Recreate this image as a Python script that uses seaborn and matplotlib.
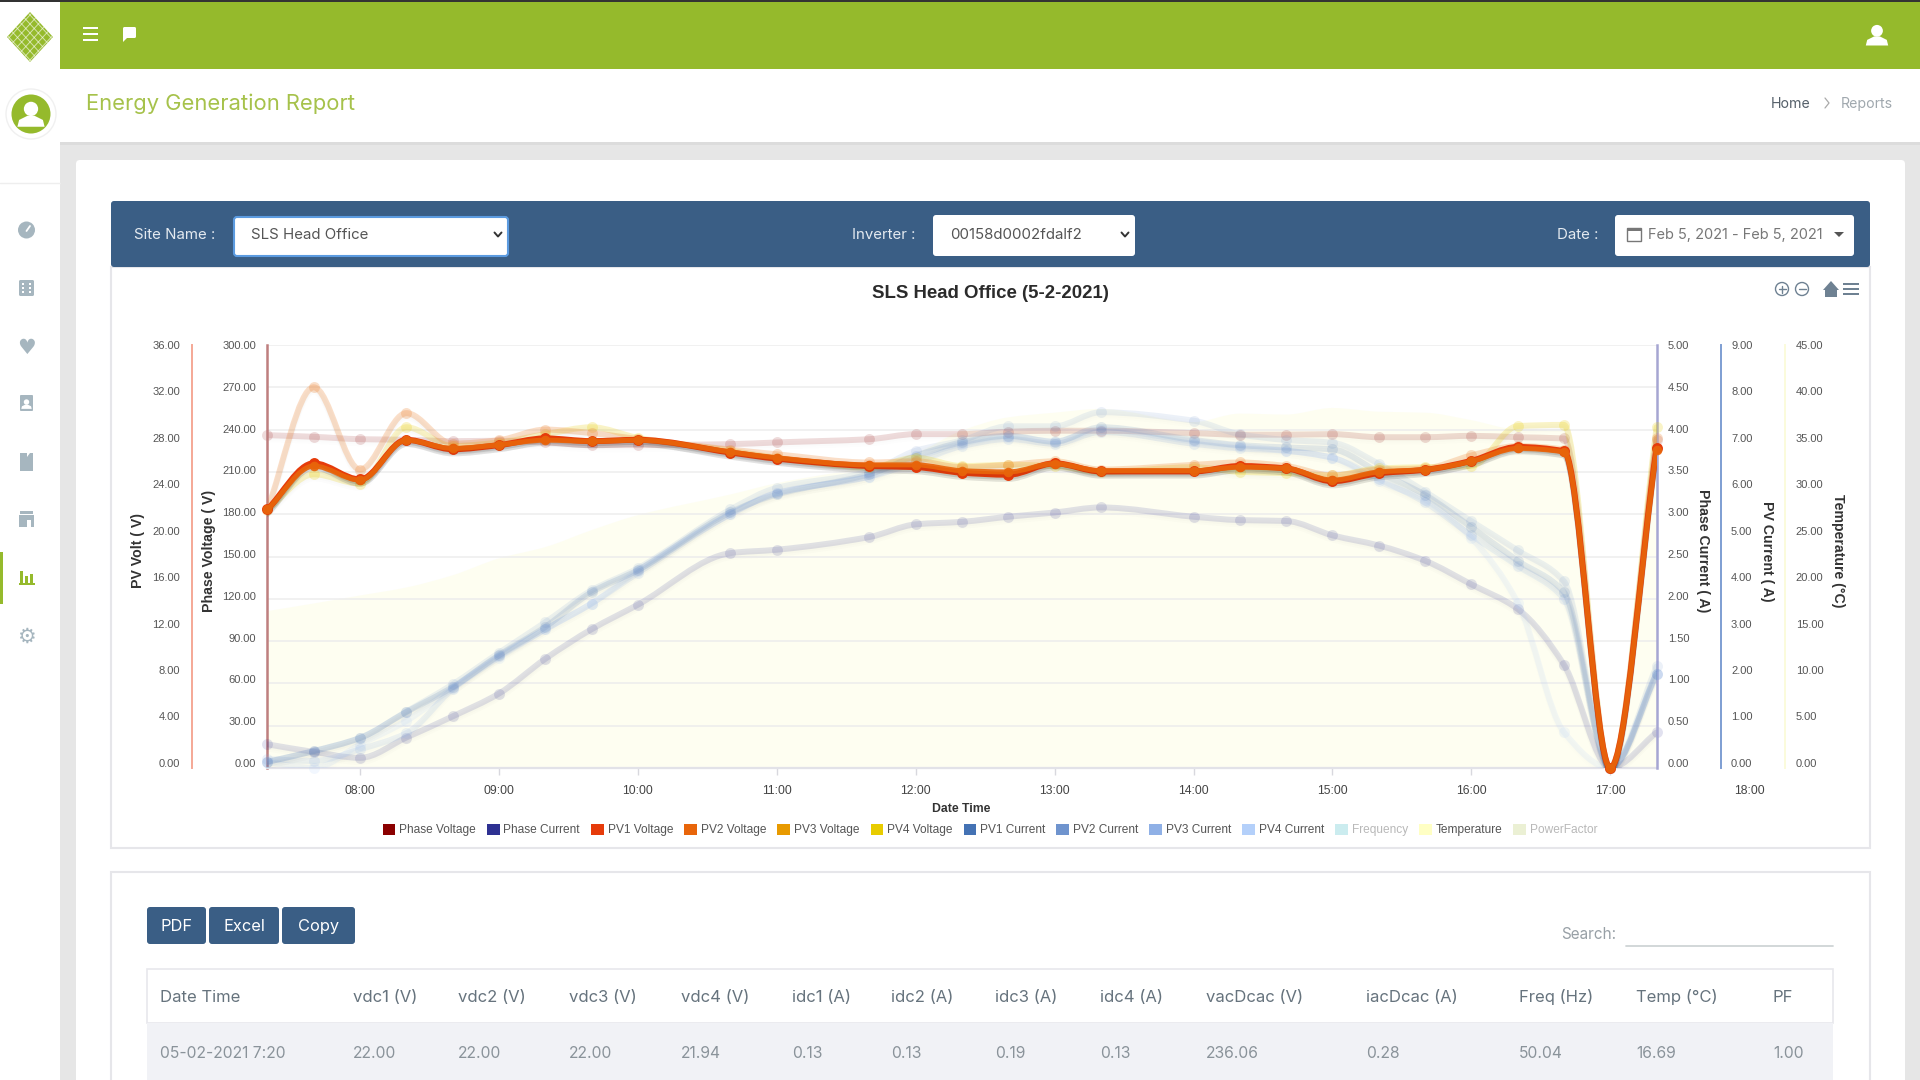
import numpy as np
import pandas as pd
import matplotlib
matplotlib.use("Agg")
import matplotlib.pyplot as plt
import matplotlib.patheffects as pe
import seaborn as sns
from matplotlib.patches import Circle, FancyBboxPatch, Patch, PathPatch, Polygon, Rectangle
from matplotlib.path import Path
from matplotlib.transforms import blended_transform_factory

CHART_FONT = "Liberation Sans"
PAGE_FONT = "Inter"
GREEN = "#95BA2C"
NAVY = "#3A5E85"
ICON = "#A6B6BF"

times = ["07:20", "07:40", "08:00", "08:20", "08:40", "09:00", "09:20", "09:40", "10:00", "10:40",
         "11:00", "11:40", "12:00", "12:20", "12:40", "13:00", "13:20", "14:00", "14:20", "14:40",
         "15:00", "15:20", "15:40", "16:00", "16:20", "16:40", "17:00", "17:20"]

df = pd.DataFrame({
    "time": times,
    "phase_v": [236.06, 234.9, 233.2, 232.8, 231.8, 232.1, 230.9, 229.0, 229.0, 229.7, 230.9, 233.2, 236.8, 236.8,
                238.5, 239.2, 239.2, 237.5, 236.4, 236.4, 236.8, 234.6, 234.6, 235.6, 234.6, 233.7, 0, 232.9],
    "phase_i": [0.28, 0.19, 0.12, 0.36, 0.61, 0.88, 1.29, 1.64, 1.93, 2.54, 2.58, 2.73, 2.88, 2.91,
                2.97, 3.02, 3.08, 2.97, 2.93, 2.92, 2.75, 2.63, 2.45, 2.17, 1.88, 1.22, 0, 0.42],
    "pv1_v": [22.0, 25.93, 24.56, 27.93, 27.13, 27.48, 28.05, 27.82, 27.93, 26.85, 26.33, 25.7, 25.61, 25.13,
              24.96, 25.93, 25.24, 25.24, 25.7, 25.5, 24.41, 25.09, 25.38, 26.14, 27.32, 26.96, 0, 27.27],
    "pv2_v": [22.0, 25.7, 24.5, 27.9, 27.2, 27.5, 27.9, 27.8, 27.9, 26.9, 26.4, 25.8, 25.8, 25.3,
              25.2, 25.9, 25.3, 25.3, 25.6, 25.5, 24.5, 25.2, 25.4, 26.1, 27.2, 26.9, 0, 27.1],
    "pv3_v": [22.0, 32.4, 25.4, 30.2, 27.6, 27.9, 28.8, 28.5, 28.0, 27.1, 26.7, 26.0, 26.1, 25.6,
              25.8, 26.1, 25.4, 25.8, 26.0, 25.7, 24.9, 25.4, 25.5, 26.6, 27.4, 27.1, 0, 28.1],
    "pv4_v": [21.94, 25.0, 24.2, 29.0, 27.4, 27.7, 28.4, 29.0, 28.1, 27.0, 26.4, 25.6, 26.4, 25.7,
              25.8, 25.7, 25.2, 25.6, 25.2, 25.1, 24.9, 25.5, 25.6, 25.7, 29.1, 29.2, 0, 29.0],
    "pv1_i": [0.13, 0.36, 0.64, 1.19, 1.72, 2.4, 3.0, 3.74, 4.21, 5.44, 5.82, 6.25, 6.64, 6.93,
              7.07, 6.94, 7.25, 6.98, 6.87, 6.82, 6.78, 6.29, 5.81, 5.12, 4.41, 3.74, 0, 2.01],
    "pv2_i": [0.13, 0.36, 0.64, 1.2, 1.78, 2.45, 3.1, 3.78, 4.25, 5.5, 5.96, 6.3, 6.75, 6.97,
              7.27, 7.27, 7.57, 7.39, 7.1, 6.98, 6.92, 6.47, 5.88, 5.25, 4.63, 3.97, 0, 2.16],
    "pv3_i": [0.19, 0.15, 0.4, 0.74, 1.68, 2.38, 2.95, 3.5, 4.15, 5.4, 5.85, 6.2, 6.5, 6.85,
              7.0, 6.9, 7.15, 6.9, 6.8, 6.75, 6.6, 6.15, 5.65, 4.95, 4.3, 3.6, 0, 2.0],
    "pv4_i": [0.13, 0.0, 0.5, 1.0, 1.7, 2.35, 2.95, 3.5, 4.2, 5.4, 5.85, 6.2, 6.6, 6.9,
              7.05, 6.95, 7.2, 6.95, 6.85, 6.75, 6.6, 6.1, 5.7, 4.89, 3.52, 0.76, 0, 2.0],
    "temp": [16.69, 17.5, 18.35, 19.2, 20.5, 22.3, 23.5, 25.3, 26.9, 29.1, 30.3, 32.1, 33.5, 35.9,
             37.3, 37.8, 38.2, 36.8, 37.7, 37.6, 38.3, 37.9, 37.8, 37.0, 36.0, 35.9, 0, 32.9],
})
clock = pd.to_datetime(df["time"], format="%H:%M")
df["hour"] = clock.dt.hour + clock.dt.minute / 60

legend_items = [
    ("Phase Voltage", "#8B0000", True), ("Phase Current", "#2E3192", True),
    ("PV1 Voltage", "#E63B0A", True), ("PV2 Voltage", "#E8650A", True),
    ("PV3 Voltage", "#E89A00", True), ("PV4 Voltage", "#E8CC00", True),
    ("PV1 Current", "#4472B4", True), ("PV2 Current", "#6F94CE", True),
    ("PV3 Current", "#8FB0E6", True), ("PV4 Current", "#B4D0FA", True),
    ("Frequency", "#CBECEF", False), ("Temperature", "#FFFFC4", True),
    ("PowerFactor", "#EBF0D4", False),
]


def smooth_path(x, y, close_to=None):
    # monotone cubic bezier through the read values, same look as the web chart
    x = np.asarray(x, dtype=float)
    y = np.asarray(y, dtype=float)
    dx = np.diff(x)
    sec = np.diff(y) / dx
    m = np.zeros(len(x))
    for i in range(1, len(x) - 1):
        if sec[i - 1] * sec[i] > 0:
            m[i] = 2 * sec[i - 1] * sec[i] / (sec[i - 1] + sec[i])
    m[0] = sec[0]
    m[-1] = sec[-1]
    verts = [(x[0], y[0])]
    codes = [Path.MOVETO]
    for i in range(len(dx)):
        verts += [(x[i] + dx[i] / 3, y[i] + m[i] * dx[i] / 3),
                  (x[i + 1] - dx[i] / 3, y[i + 1] - m[i + 1] * dx[i] / 3),
                  (x[i + 1], y[i + 1])]
        codes += [Path.CURVE4] * 3
    if close_to is not None:
        verts += [(x[-1], close_to), (x[0], close_to), (x[0], close_to)]
        codes += [Path.LINETO, Path.LINETO, Path.CLOSEPOLY]
    return Path(verts, codes)


def draw_series(ax, col, color, alpha, lw=4.3, size=62, shadow=0.05):
    effects = [
        pe.SimpleLineShadow(offset=(0, -3), shadow_color="k", alpha=shadow),
        pe.SimpleLineShadow(offset=(0, -1.5), shadow_color="k", alpha=shadow),
        pe.Normal(),
    ]
    ax.add_patch(PathPatch(smooth_path(df["hour"], df[col]), fill=False, ec=color, lw=lw,
                           alpha=alpha, capstyle="round", joinstyle="round", path_effects=effects))
    sns.scatterplot(data=df, x="hour", y=col, ax=ax, color=color, alpha=alpha, s=size,
                    linewidth=0, legend=False, clip_on=False)
    ax.set_xlabel("")
    ax.set_ylabel("")


def side_axis(ax, side, vmax, step, spine_px, pad, color, label, label_x, lw=1.4):
    ax.set_ylim(0, vmax)
    ax.set_xlim(7 + 1 / 3, 17 + 1 / 3)
    ticks = np.arange(0, vmax + step / 2, step)
    # the web chart prints its labels a little above the true height near the bottom
    ax.set_yticks(ticks + (vmax - ticks) * 0.012, [f"{t:.2f}" for t in ticks])
    for name, spine in ax.spines.items():
        spine.set_visible(name == side)
    ax.spines[side].set_position(("outward", spine_px * 0.72))
    ax.spines[side].set_color(color)
    ax.spines[side].set_linewidth(lw)
    ax.yaxis.set_ticks_position(side)
    ax.tick_params(axis="y", length=0, pad=pad, labelsize=8, labelcolor="#555555")
    rot = 90 if side == "left" else -90
    page.text(label_x, 551, label, rotation=rot, ha="center", va="center", fontsize=10.2,
              fontweight="bold", family=CHART_FONT, color="#333333", zorder=20)


def box(x0, y0, x1, y1, color, z=1, round_px=0, ec="none", lw=0):
    if round_px:
        patch = FancyBboxPatch((x0, y0), x1 - x0, y1 - y0, boxstyle=f"round,pad=0,rounding_size={round_px}",
                               fc=color, ec=ec, lw=lw, zorder=z)
    else:
        patch = Rectangle((x0, y0), x1 - x0, y1 - y0, fc=color, ec=ec, lw=lw, zorder=z)
    page.add_patch(patch)
    return patch


def label(x, y, s, size=10, color="#666666", ha="left", font=PAGE_FONT, **kw):
    page.text(x, y + 1.2, s, fontsize=size, color=color, ha=ha, va="center", family=font, zorder=10, **kw)


def draw_person(cx, cy, r, color):
    page.add_patch(Circle((cx, cy - r * 0.3), r * 0.42, fc=color, ec="none", zorder=6))
    page.add_patch(Polygon([(cx - r * 0.8, cy + r * 0.75), (cx - r * 0.7, cy + r * 0.35),
                            (cx - r * 0.2, cy + r * 0.1), (cx + r * 0.2, cy + r * 0.1),
                            (cx + r * 0.7, cy + r * 0.35), (cx + r * 0.8, cy + r * 0.75)],
                           fc=color, ec="none", zorder=6))


def draw_page():
    # page furniture, laid out in reference pixels
    box(0, 0, 1920, 1080, "white", z=0)
    box(60, 142, 1920, 1080, "#E6E6E6", z=0.5)
    box(0, 0, 1920, 2, "#333333", z=2)
    box(60, 2, 1920, 69, GREEN, z=1)
    box(60, 142, 1920, 145, "#DCDCDC", z=1)
    box(76, 160, 1905, 1090, "white", z=1, round_px=4)

    # logo
    diamond = Polygon([(30, 12), (53, 37), (30, 62), (7, 37)], fc=GREEN, ec="none", zorder=2)
    page.add_patch(diamond)
    for k in range(-40, 41, 9):
        for sign in (1, -1):
            ln, = page.plot([0, 60], [37 + k - sign * 30 * 1.08, 37 + k + sign * 30 * 1.08],
                            color="white", lw=0.7, zorder=3, alpha=0.6)
            ln.set_clip_path(diamond)

    # avatar
    page.add_patch(Circle((31, 114), 25, fc="white", ec="#F0F0F0", lw=1, zorder=2))
    page.add_patch(Circle((31, 114), 19.5, fc=GREEN, ec="none", zorder=3))
    draw_person(31, 114, 17, "white")
    page.plot([0, 60], [183, 183], color="#EEEEEE", lw=1, zorder=2)

    # header icons
    for y in (28, 34, 40):
        box(83, y - 1, 98, y + 1, "white", z=3)
    box(123, 27, 136, 38, "white", z=3, round_px=1.5)
    page.add_patch(Polygon([(123, 37), (123, 42), (128, 37)], fc="white", ec="none", zorder=3))
    draw_person(1877, 35, 14, "white")

    # title row
    label(86, 103, "Energy Generation Report", size=15.8, color="#A6C24B")
    label(1771, 103, "Home", size=10.2, color="#55606A")
    page.plot([1825, 1829, 1825], [98, 103, 108], color="#AAAAAA", lw=0.9, zorder=3)
    label(1841, 103, "Reports", size=10.2, color="#A0A8AE")

    # sidebar icons
    page.add_patch(Circle((26.5, 230), 8.5, fc=ICON, ec="none", zorder=3))
    page.plot([26.5, 30], [231, 226], color="white", lw=1.3, zorder=4)
    box(19, 280, 34, 296, ICON, z=3, round_px=1.5)
    for y in (284, 288, 292):
        box(22, y - 1, 24, y + 1, "white", z=4)
        box(29, y - 1, 31, y + 1, "white", z=4)
    page.text(26.5, 348, "\u2665", fontsize=15, color=ICON, ha="center", va="center", family="DejaVu Sans", zorder=3)
    box(20, 395, 33, 411, ICON, z=3, round_px=1)
    draw_person(26.5, 404, 6.5, "white")
    page.add_patch(Polygon([(20, 453), (27, 453), (27, 457), (30, 453), (33, 453), (33, 471), (20, 471)],
                           fc=ICON, ec="none", zorder=3))
    box(20, 511, 33, 514, ICON, z=3)
    box(19, 515, 34, 527, ICON, z=3)
    box(27, 520, 31, 527, "white", z=4)
    box(0, 552, 3, 604, GREEN, z=3)
    for x, h in ((21, 14), (26, 9), (31, 11)):
        box(x - 1.5, 585 - h, x + 1.5, 585, GREEN, z=3)
    box(19, 583, 35, 585, GREEN, z=3)
    page.text(26.5, 636.5, "\u2699", fontsize=15, color=ICON, ha="center", va="center", family="DejaVu Sans", zorder=3)

    # filter bar
    box(111, 201, 1870, 267, NAVY, z=2, round_px=3)
    label(134, 234, "Site Name :", size=10.8, color="#E4EAF0")
    box(234, 217, 508, 256, "white", z=3, round_px=3, ec="#5C9BE0", lw=1.5)
    label(251, 234, "SLS Head Office", size=10.8, color="#555555")
    label(852, 234, "Inverter :", size=10.8, color="#E4EAF0")
    box(933, 215, 1135, 256, "white", z=3, round_px=3)
    label(950, 234, "00158d0002fdalf2", size=10.8, color="#555555")
    label(1557, 234, "Date :", size=10.8, color="#E4EAF0")
    box(1615, 215, 1854, 256, "white", z=3, round_px=3)
    label(1648, 234, "Feb 5, 2021 - Feb 5, 2021", size=10.5, color="#777777")
    box(1627, 228, 1641, 241, "white", z=4, ec="#777777", lw=1)
    box(1627, 228, 1641, 231, "#777777", z=4)
    page.add_patch(Polygon([(1834, 232), (1844, 232), (1839, 237)], fc="#555555", ec="none", zorder=4))
    for cx in (498, 1125):
        page.plot([cx - 3.5, cx, cx + 3.5], [232.5, 236.5, 232.5], color="#333333", lw=1.4, zorder=4)

    # chart card
    box(111, 267, 1870, 848, "white", z=1.5, ec="#E6E6EA", lw=1.5)
    page.text(990, 293.5, "SLS Head Office (5-2-2021)", fontsize=13.4, fontweight="bold", ha="center",
              va="center", family=CHART_FONT, color="#2B2B2B", zorder=10)
    tool = "#6E8192"
    for cx, sym in ((1782, "+"), (1802, "-")):
        page.add_patch(Circle((cx, 289), 6.5, fc="none", ec=tool, lw=1, zorder=5))
        page.plot([cx - 3.5, cx + 3.5], [289, 289], color=tool, lw=1, zorder=5)
        if sym == "+":
            page.plot([cx, cx], [285.5, 292.5], color=tool, lw=1, zorder=5)
    page.add_patch(Polygon([(1823, 290), (1831, 281), (1839, 290), (1837, 290), (1837, 297), (1825, 297), (1825, 290)],
                           fc=tool, ec="none", zorder=5))
    for y in (284, 289, 294):
        box(1843, y - 1, 1859, y + 1, tool, z=5)

    # table card
    box(111, 872, 1870, 1090, "white", z=1.5, ec="#E6E6EA", lw=1.5)
    for x0, x1, text in ((147, 206, "PDF"), (209, 279, "Excel"), (282, 355, "Copy")):
        box(x0, 907, x1, 944, NAVY, z=3, round_px=3)
        label((x0 + x1) / 2, 925.5, text, size=11.8, color="white", ha="center")
    label(1616, 933, "Search:", size=11, color="#98A0A6", ha="right")
    page.plot([1626, 1833], [946, 946], color="#CFD4D6", lw=1.3, zorder=3)
    box(147, 969, 1833, 1023, "white", z=2, ec="#E8E8EC", lw=1.2)
    box(147, 1023, 1833, 1080, "#F1F2F6", z=2)
    columns = [(160, "Date Time", "05-02-2021 7:20"), (353, "vdc1 (V)", "22.00"), (458, "vdc2 (V)", "22.00"),
               (569, "vdc3 (V)", "22.00"), (681, "vdc4 (V)", "21.94"), (792, "idc1 (A)", "0.13"),
               (891, "idc2 (A)", "0.13"), (995, "idc3 (A)", "0.19"), (1100, "idc4 (A)", "0.13"),
               (1206, "vacDcac (V)", "236.06"), (1366, "iacDcac (A)", "0.28"), (1519, "Freq (Hz)", "50.04"),
               (1636, "Temp (\u00b0C)", "16.69"), (1773, "PF", "1.00")]
    for x, head, value in columns:
        label(x, 996, head, size=12, color="#66737D")
        label(x, 1052, value, size=11.3, color="#8A939A")


sns.set_theme(style="white")
plt.rcParams["font.family"] = [CHART_FONT, "DejaVu Sans"]

fig = plt.figure(figsize=(19.2, 10.8), dpi=100)
page = fig.add_axes([0, 0, 1, 1], zorder=0)
page.set_xlim(0, 1920)
page.set_ylim(1080, 0)
page.axis("off")
draw_page()

# main chart axes sit on the reference plot box, x 267-1657, y 345-768
volt_ax = fig.add_axes([267.4 / 1920, 1 - 768 / 1080, (1656.6 - 267.4) / 1920, 423 / 1080], zorder=3)
volt_ax.patch.set_visible(False)
temp_ax = volt_ax.twinx()
temp_ax.set_zorder(2)
cur_ax = volt_ax.twinx()
cur_ax.set_zorder(4)
pvi_ax = volt_ax.twinx()
pvi_ax.set_zorder(5)
pvv_ax = volt_ax.twinx()
pvv_ax.set_zorder(6)

side_axis(volt_ax, "left", 300, 30, 0, 8, "#BE7F7F", "Phase Voltage ( V)", 209, lw=1.8)
side_axis(pvv_ax, "left", 36, 4, 75.4, 8.6, "#F5A896", "PV Volt ( V)", 138)
side_axis(cur_ax, "right", 5, 0.5, 0, 8, "#A6A6D2", "Phase Current ( A)", 1703, lw=1.8)
side_axis(pvi_ax, "right", 9, 1, 64, 7.5, "#7E9ED2", "PV Current ( A)", 1767)
side_axis(temp_ax, "right", 45, 5, 128, 8, "#FBFBDC", "Temperature (\u00b0C)", 1838)

# grid and time axis belong to the phase voltage axes
volt_ax.set_xticks(range(8, 18), [f"{h:02d}:00" for h in range(8, 18)])
volt_ax.xaxis.set_ticks_position("bottom")
volt_ax.tick_params(axis="x", length=5, width=1, color="#D8D8DE", pad=7, labelsize=8.7, labelcolor="#444444")
volt_ax.spines["bottom"].set_visible(True)
volt_ax.spines["bottom"].set_color("#E2E2E8")
volt_ax.spines["bottom"].set_linewidth(1.6)
for t in np.arange(0, 301, 30):
    volt_ax.axhline(t, color="#EDEDED", lw=1.1, zorder=0.5)
x_text = blended_transform_factory(volt_ax.transData, volt_ax.transAxes)
volt_ax.text(18, -0.041, "18:00", transform=x_text, ha="center", va="top", fontsize=8.7, color="#444444",
             clip_on=False)

# temperature is the filled area under everything
temp_ax.add_patch(PathPatch(smooth_path(df["hour"], df["temp"], close_to=0), fc="#FEFEF1", ec="none"))

draw_series(volt_ax, "phase_v", "#8B0000", 0.14, shadow=0.008)
draw_series(cur_ax, "phase_i", "#2E3192", 0.14, shadow=0.01)
draw_series(pvi_ax, "pv4_i", "#B4D0FA", 0.16, shadow=0.004)
draw_series(pvi_ax, "pv3_i", "#8FB0E6", 0.16, shadow=0.006)
draw_series(pvi_ax, "pv2_i", "#6F94CE", 0.13, shadow=0.006)
draw_series(pvi_ax, "pv1_i", "#4472B4", 0.14, shadow=0.012)
draw_series(pvv_ax, "pv4_v", "#E8CC00", 0.22, shadow=0.01)
draw_series(pvv_ax, "pv3_v", "#EE8A3C", 0.28, shadow=0.01)
draw_series(pvv_ax, "pv1_v", "#E63B0A", 1.0, shadow=0.12)
draw_series(pvv_ax, "pv2_v", "#E8650A", 0.92, lw=3.6, size=48, shadow=0.03)

page.text(961, 809, "Date Time", fontsize=8.8, fontweight="bold", ha="center", va="center",
          family=CHART_FONT, color="#333333", zorder=10)

handles = [Patch(fc=color, ec="none", label=name) for name, color, _ in legend_items]
leg = pvv_ax.legend(handles=handles, ncol=len(handles), frameon=False, fontsize=8.55,
                    handlelength=1.05, handleheight=1.1, handletextpad=0.32, columnspacing=0.95,
                    borderpad=0, borderaxespad=0, loc="center",
                    bbox_to_anchor=(990 / 1920, 1 - 830 / 1080), bbox_transform=fig.transFigure)
for text, item in zip(leg.get_texts(), legend_items):
    text.set_color("#555555" if item[2] else "#B8B8B8")

fig.savefig("out.png", dpi=100)
